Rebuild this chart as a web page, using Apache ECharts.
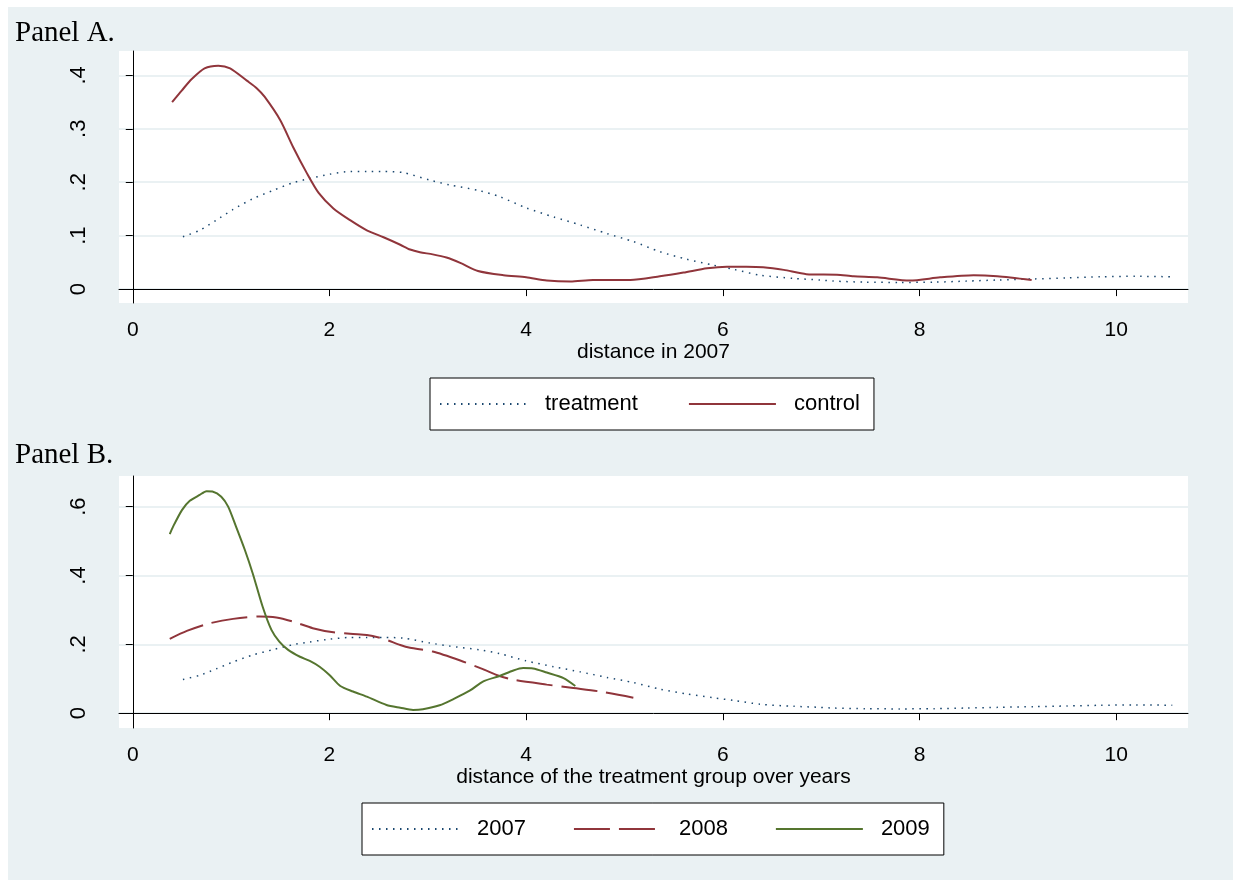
<!DOCTYPE html>
<html><head><meta charset="utf-8">
<script src="https://cdn.jsdelivr.net/npm/echarts@6/dist/echarts.min.js"></script>
<style>html,body{margin:0;padding:0;background:#fff}#c{width:1233px;height:892px}</style>
</head><body><div id="c"></div>
<script>
const xTicks = [0, 2, 4, 6, 8, 10];
const yTicksA = [0, 0.1, 0.2, 0.3, 0.4];
const yLabelsA = ['0', '.1', '.2', '.3', '.4'];
const yTicksB = [0, 0.2, 0.4, 0.6];
const yLabelsB = ['0', '.2', '.4', '.6'];

// Panel A: treatment (also 2007 in Panel B)
const treatX = [0.51,0.68,0.85,1.02,1.22,1.43,1.63,1.80,2.0,2.21,2.38,2.55,2.75,3.02,3.22,3.53,3.73,4.0,4.28,4.55,4.82,5.09,5.36,5.63,5.90,6.11,6.38,6.72,6.99,7.12,7.45,7.80,8.15,8.48,8.8,9.16,9.5,9.84,10.2,10.57];
const treatY = [0.098,0.110,0.129,0.149,0.169,0.185,0.199,0.207,0.215,0.220,0.220,0.220,0.218,0.204,0.195,0.184,0.173,0.152,0.135,0.120,0.104,0.089,0.070,0.056,0.045,0.037,0.026,0.020,0.017,0.015,0.013,0.0125,0.013,0.015,0.017,0.019,0.021,0.023,0.024,0.023];

// Panel A: control
const ctrlX = [0.40,0.50,0.60,0.73,0.87,0.99,1.16,1.26,1.34,1.50,1.63,1.77,1.89,2.04,2.21,2.38,2.55,2.72,2.82,2.92,3.05,3.19,3.33,3.51,3.77,4.0,4.21,4.45,4.68,5.06,5.36,5.60,5.84,6.04,6.24,6.41,6.62,6.85,7.16,7.33,7.57,7.90,8.21,8.55,8.79,9.14];
const ctrlY = [0.350,0.372,0.393,0.413,0.418,0.413,0.390,0.376,0.360,0.316,0.266,0.217,0.180,0.151,0.129,0.110,0.097,0.083,0.074,0.069,0.065,0.059,0.049,0.034,0.026,0.022,0.016,0.014,0.017,0.017,0.024,0.031,0.039,0.042,0.042,0.041,0.036,0.028,0.027,0.024,0.022,0.016,0.022,0.026,0.024,0.017];

// Panel B: 2008
const y2008X = [0.376,0.55,0.78,1.02,1.29,1.46,1.63,1.83,2.04,2.24,2.38,2.55,2.72,2.82,3.05,3.33,3.56,3.73,3.87,4.21,4.48,4.75,5.09];
const y2008Y = [0.216,0.239,0.261,0.274,0.281,0.278,0.266,0.247,0.235,0.230,0.227,0.216,0.198,0.190,0.179,0.153,0.128,0.108,0.097,0.083,0.073,0.063,0.045];

// Panel B: 2009
const y2009X = [0.376,0.41,0.50,0.58,0.68,0.75,0.81,0.90,0.97,1.05,1.14,1.22,1.32,1.41,1.49,1.58,1.70,1.80,1.90,2.0,2.11,2.24,2.38,2.58,2.72,2.85,2.95,3.12,3.26,3.43,3.56,3.73,3.87,3.97,4.07,4.21,4.38,4.50];
const y2009Y = [0.520,0.542,0.590,0.617,0.634,0.645,0.644,0.629,0.600,0.542,0.474,0.406,0.310,0.242,0.208,0.184,0.164,0.152,0.135,0.111,0.079,0.063,0.048,0.024,0.016,0.0096,0.0116,0.023,0.041,0.066,0.092,0.108,0.124,0.131,0.130,0.118,0.102,0.079];

const pairs = (xs, ys) => xs.map((x, i) => [x, ys[i]]);

const NAVY = '#1a476f', MAROON = '#90353b', GREEN = '#55752f';
const BG = '#eaf1f3';
const SANS = 'Liberation Sans, Arial, sans-serif';
const SERIF = 'Liberation Serif, Times New Roman, serif';

function xAxisCfg(gridIndex, name) {
  return {
    type: 'value', gridIndex, min: -0.14, max: 10.73, name,
    nameLocation: 'middle', nameGap: 38,
    nameTextStyle: { fontSize: 21, fontFamily: SANS, color: '#000' },
    axisLine: { show: true, lineStyle: { color: '#000', width: 1 } },
    axisTick: { show: true, length: 7, customValues: xTicks, lineStyle: { color: '#000' } },
    axisLabel: { customValues: xTicks, margin: 17, fontSize: 21, fontFamily: SANS, color: '#000' },
    splitLine: { show: false }
  };
}
function yAxisCfg(gridIndex, min, max, ticks, labels) {
  return {
    type: 'value', gridIndex, min, max,
    axisLine: { show: true, lineStyle: { color: '#000', width: 1 } },
    axisTick: { show: true, length: 7, customValues: ticks, lineStyle: { color: '#000' } },
    axisLabel: { customValues: ticks, rotate: 90, margin: 29, fontSize: 22, fontFamily: SANS, color: '#000',
      formatter: v => { const i = ticks.findIndex(t => Math.abs(t - v) < 1e-9); return i >= 0 ? labels[i] : ''; } },
    splitLine: { show: true, lineStyle: { color: BG, width: 2 } }
  };
}
function legendCfg(names, left, top, gap) {
  return {
    data: names, left, top, orient: 'horizontal',
    itemWidth: 87, itemHeight: 14, itemGap: gap,
    padding: [15, 14, 15, 9],
    borderColor: '#000', borderWidth: 1, backgroundColor: '#fff', borderRadius: 0,
    itemStyle: { opacity: 0 },
    textStyle: { fontSize: 22, fontFamily: SANS, color: '#000', padding: [0, 0, 0, 13] },
    selectedMode: false
  };
}
const lineS = (name, data, xi, color, type, width) => ({
  name, type: 'line', xAxisIndex: xi, yAxisIndex: xi, data, symbol: 'none', showSymbol: false,
  smooth: 0.25, lineStyle: { color, type, width }, itemStyle: { color }
});

const chart = echarts.init(document.getElementById('c'), null, { renderer: 'canvas' });
chart.setOption({
  animation: false,
  backgroundColor: '#fff',
  graphic: [
    { type: 'rect', z: -100, shape: { x: 8, y: 7, width: 1225, height: 873 }, style: { fill: BG } },
    { type: 'text', z: 10, x: 15, y: 19, style: { text: 'Panel A.', font: '29px ' + SERIF, fill: '#000', verticalAlign: 'top' } },
    { type: 'text', z: 10, x: 15, y: 441, style: { text: 'Panel B.', font: '29px ' + SERIF, fill: '#000', verticalAlign: 'top' } }
  ],
  grid: [
    { left: 119, top: 51, width: 1069, height: 252, show: true, backgroundColor: '#fff', borderWidth: 0, containLabel: false },
    { left: 119, top: 476, width: 1069, height: 252, show: true, backgroundColor: '#fff', borderWidth: 0, containLabel: false }
  ],
  xAxis: [xAxisCfg(0, 'distance in 2007'), xAxisCfg(1, 'distance of the treatment group over years')],
  yAxis: [yAxisCfg(0, -0.026, 0.4455, yTicksA, yLabelsA), yAxisCfg(1, -0.043, 0.689, yTicksB, yLabelsB)],
  legend: [legendCfg(['treatment', 'control'], 430, 378, 50), legendCfg(['2007', '2008', '2009'], 362, 803, 47)],
  series: [
    lineS('treatment', pairs(treatX, treatY), 0, NAVY, [1.5, 5.5], 1.5),
    lineS('control', pairs(ctrlX, ctrlY), 0, MAROON, 'solid', 2),
    lineS('2007', pairs(treatX, treatY), 1, NAVY, [1.5, 5.5], 1.5),
    lineS('2008', pairs(y2008X, y2008Y), 1, MAROON, [36, 9], 2),
    lineS('2009', pairs(y2009X, y2009Y), 1, GREEN, 'solid', 2)
  ]
});
</script></body></html>
